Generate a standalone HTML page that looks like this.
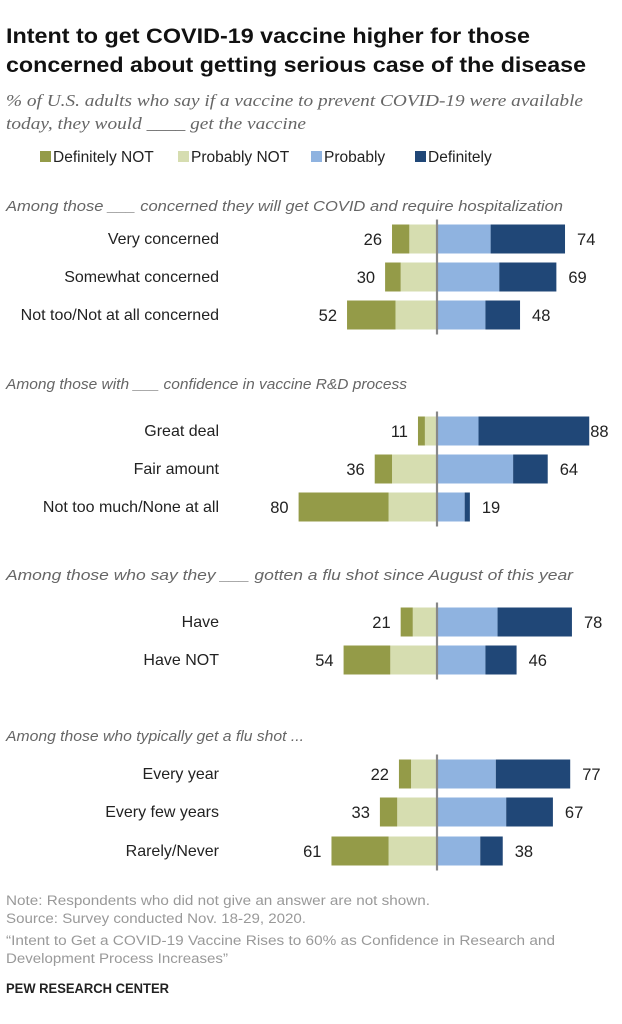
<!DOCTYPE html>
<html><head><meta charset="utf-8"><style>
body{margin:0;background:#fff;}
svg{display:block;font-family:"Liberation Sans",sans-serif;}
</style></head><body>
<svg id="chart" width="622" height="1024" viewBox="0 0 622 1024">
<text x="6" y="43" font-size="21.5" font-weight="bold" fill="#111" textLength="524" lengthAdjust="spacingAndGlyphs">Intent to get COVID-19 vaccine higher for those</text>
<text x="6" y="72" font-size="21.5" font-weight="bold" fill="#111" textLength="580" lengthAdjust="spacingAndGlyphs">concerned about getting serious case of the disease</text>
<text x="6" y="106" font-size="17" font-style="italic" fill="#666" font-family="Liberation Serif, serif" textLength="577" lengthAdjust="spacingAndGlyphs">% of U.S. adults who say if a vaccine to prevent COVID-19 were available</text>
<text x="6" y="129" font-size="17" font-style="italic" fill="#666" font-family="Liberation Serif, serif" textLength="300" lengthAdjust="spacingAndGlyphs">today, they would ____ get the vaccine</text>
<g id="legend"></g>
<g id="sections"></g>
<g id="bars"></g>
<text x="6" y="905" font-size="13.5" fill="#999" textLength="424" lengthAdjust="spacingAndGlyphs">Note: Respondents who did not give an answer are not shown.</text>
<text x="6" y="923" font-size="13.5" fill="#999" textLength="300" lengthAdjust="spacingAndGlyphs">Source: Survey conducted Nov. 18-29, 2020.</text>
<text x="6" y="945" font-size="13.5" fill="#999" textLength="549" lengthAdjust="spacingAndGlyphs">“Intent to Get a COVID-19 Vaccine Rises to 60% as Confidence in Research and</text>
<text x="6" y="963" font-size="13.5" fill="#999" textLength="222" lengthAdjust="spacingAndGlyphs">Development Process Increases”</text>
<text x="6" y="993" font-size="13.5" font-weight="bold" fill="#222" textLength="163" lengthAdjust="spacingAndGlyphs">PEW RESEARCH CENTER</text>
</svg>
<script>
const seriesNames=["Definitely NOT","Probably NOT","Probably","Definitely"];
const colors=["#949b48","#d6ddb0","#8fb3e0","#204777"];
const categories=["Very concerned","Somewhat concerned","Not too/Not at all concerned","Great deal","Fair amount","Not too much/None at all","Have","Have NOT","Every year","Every few years","Rarely/Never"];
const defNot=[10,9,28,4,10,52,7,27,7,10,33];
const probNot=[16,21,24,7,26,28,14,27,15,23,28];
const prob=[31,36,28,24,44,16,35,28,34,40,25];
const defin=[43,33,20,64,20,3,43,18,43,27,13];
const netNo=[26,30,52,11,36,80,21,54,22,33,61];
const netYes=[74,69,48,88,64,19,78,46,77,67,38];
const sectionTitles=["Among those ___ concerned they will get COVID and require hospitalization","Among those with ___ confidence in vaccine R&D process","Among those who say they ___ gotten a flu shot since August of this year","Among those who typically get a flu shot ..."];
const sectionLens=[557,401,567,298];
const sectionRows=[[0,1,2],[3,4,5],[6,7],[8,9,10]];
const rowY=[239,277,315,431,469,507,622,660,774,812,851];
const secY=[211,389,580,741];
const NS="http://www.w3.org/2000/svg";
const center=437, k=1.73, bh=29;
const xs=v=>v*k;
function mk(tag,attrs,parent,txt){const e=document.createElementNS(NS,tag);for(const a in attrs)e.setAttribute(a,attrs[a]);if(txt!==undefined)e.textContent=txt;parent.appendChild(e);return e;}
const leg=document.getElementById('legend');
const legX=[40,178,311,415];
seriesNames.forEach((n,i)=>{
 const r=mk('rect',{x:legX[i],y:151,width:11,height:11,fill:colors[i]},leg);
 
 
 const t=mk('text',{x:legX[i]+13,y:162,'font-size':15.5,fill:'#222'},leg,n);
 
 
});
const sec=document.getElementById('sections');
sectionTitles.forEach((s,i)=>{
 const t=mk('text',{x:6,y:secY[i],'font-size':15,'font-style':'italic',fill:'#666',textLength:sectionLens[i],lengthAdjust:'spacingAndGlyphs'},sec,s);
 
 
});
const g=document.getElementById('bars');
categories.forEach((c,i)=>{
 const y=rowY[i]-bh/2;
 const lbl=mk('text',{x:219,y:rowY[i]+5,'font-size':16,'text-anchor':'end',fill:'#222'},g,c);
 
 
 let l0=center-xs(probNot[i]);
 const b1=mk('rect',{x:l0,y:y,width:xs(probNot[i]),height:bh,fill:colors[1]},g);
 
 
 const l1=l0-xs(defNot[i]);
 const b0=mk('rect',{x:l1,y:y,width:xs(defNot[i]),height:bh,fill:colors[0]},g);
 
 
 const b2=mk('rect',{x:center,y:y,width:xs(prob[i]),height:bh,fill:colors[2]},g);
 
 
 const r1=center+xs(prob[i]);
 const b3=mk('rect',{x:r1,y:y,width:xs(defin[i]),height:bh,fill:colors[3]},g);
 
 
 const tl=mk('text',{x:l1-10,y:rowY[i]+6,'font-size':16.5,'text-anchor':'end',fill:'#222'},g,netNo[i]);
 
 
 const tr=mk('text',{x:r1+xs(defin[i])+(netYes[i]>85?1:12),y:rowY[i]+6,'font-size':16.5,fill:'#222'},g,netYes[i]);
 
 
});
sectionRows.forEach(rows=>{
 const a=rowY[rows[0]]-bh/2-5, b=rowY[rows[rows.length-1]]+bh/2+5;
 const ln=mk('line',{x1:center,x2:center,y1:a,y2:b,stroke:'#888','stroke-width':2.2},g);
 
 
});
</script>
</body></html>
